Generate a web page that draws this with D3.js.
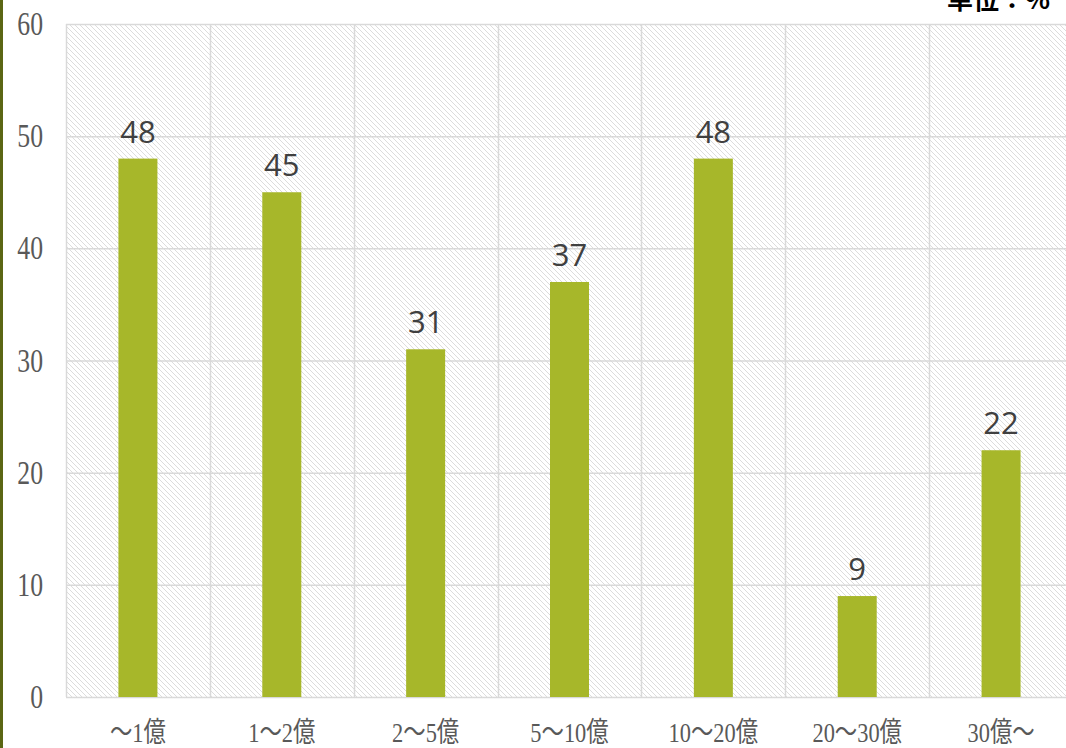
<!DOCTYPE html>
<meta charset="utf-8">
<head>
<title>bar chart</title>
<script src="https://cdn.jsdelivr.net/npm/d3@7"></script>
<style>
  body { margin: 0; background: #fff; }
</style>
</head>
<body>
<div id="chart"></div>
<script>
const width = 1066;
const height = 748;

// data
const categories = ["～1億", "1～2億", "2～5億", "5～10億", "10～20億", "20～30億", "30億～"];
const values = [48, 45, 31, 37, 48, 9, 22];
const yTicks = [0, 10, 20, 30, 40, 50, 60];

const plotLeft = 66, plotRight = 1073, plotTop = 24, plotBottom = 697;

const svg = d3.select("#chart")
  .append("svg")
  .attr("width", width)
  .attr("height", height);

const defs = svg.append("defs");
const pat = defs.append("pattern")
  .attr("id", "hatch")
  .attr("patternUnits", "userSpaceOnUse")
  .attr("width", 5)
  .attr("height", 5);
pat.append("rect").attr("width", 5).attr("height", 5).attr("fill", "#fff");
pat.append("path")
  .attr("d", "M-1,-1 L6,6 M-1,4 L1,6 M4,-1 L6,1")
  .attr("stroke", "#dcdcdc")
  .attr("stroke-width", 1);

const x = d3.scaleBand()
  .domain(categories)
  .range([plotLeft, plotRight])
  .paddingInner(0)
  .paddingOuter(0);

const y = d3.scaleLinear()
  .domain([0, 60])
  .range([plotBottom, plotTop]);

// left stripe
svg.append("rect")
  .attr("x", 0).attr("y", 0)
  .attr("width", 3).attr("height", height)
  .attr("fill", "#5b6614");

// plot background
svg.append("rect")
  .attr("x", plotLeft).attr("y", plotTop)
  .attr("width", plotRight - plotLeft).attr("height", plotBottom - plotTop)
  .attr("fill", "url(#hatch)");

// grid
svg.append("g")
  .selectAll("line")
  .data(yTicks)
  .join("line")
    .attr("x1", plotLeft).attr("x2", plotRight)
    .attr("y1", d => y(d) + 0.5).attr("y2", d => y(d) + 0.5)
    .attr("stroke", "#d9d9d9")
    .attr("stroke-width", 1.5);

svg.append("g")
  .selectAll("line")
  .data(categories)
  .join("line")
    .attr("x1", d => Math.round(x(d)) + 0.5).attr("x2", d => Math.round(x(d)) + 0.5)
    .attr("y1", plotTop).attr("y2", plotBottom)
    .attr("stroke", "#d9d9d9")
    .attr("stroke-width", 1.5);

// bars
const bw = 39;
svg.append("g")
  .selectAll("rect")
  .data(values)
  .join("rect")
    .attr("x", (d, i) => x(categories[i]) + x.bandwidth() / 2 - bw / 2)
    .attr("y", d => y(d))
    .attr("width", bw)
    .attr("height", d => y(0) - y(d))
    .attr("fill", "#a7b72a");

// value labels
svg.append("g")
  .style("font", "31px 'Open Sans', sans-serif")
  .selectAll("text")
  .data(values)
  .join("text")
    .attr("x", (d, i) => x(categories[i]) + x.bandwidth() / 2)
    .attr("y", d => y(d) - 16)
    .attr("text-anchor", "middle")
    .attr("fill", "#404040")
    .text(d => d);

// y tick labels
svg.append("g")
  .selectAll("text")
  .data(yTicks)
  .join("text")
    .attr("transform", d => `translate(43,${y(d) + 11}) scale(0.78,1)`)
    .attr("text-anchor", "end")
    .attr("fill", "#595959")
    .style("font", "33px 'Liberation Serif', serif")
    .text(d => d);

// x labels
svg.append("g")
  .selectAll("text")
  .data(categories)
  .join("text")
    .attr("transform", d => `translate(${x(d) + x.bandwidth() / 2},742) scale(0.8,1)`)
    .attr("text-anchor", "middle")
    .attr("fill", "#595959")
    .style("font", "28px 'Liberation Serif', 'Noto Sans CJK JP', serif")
    .text(d => d);

// unit
svg.append("text")
  .attr("x", 1050)
  .attr("y", 9)
  .attr("text-anchor", "end")
  .attr("fill", "#000")
  .style("font", "bold 26px 'Noto Sans CJK JP', sans-serif")
  .text("単位：%");
</script>
</body>
